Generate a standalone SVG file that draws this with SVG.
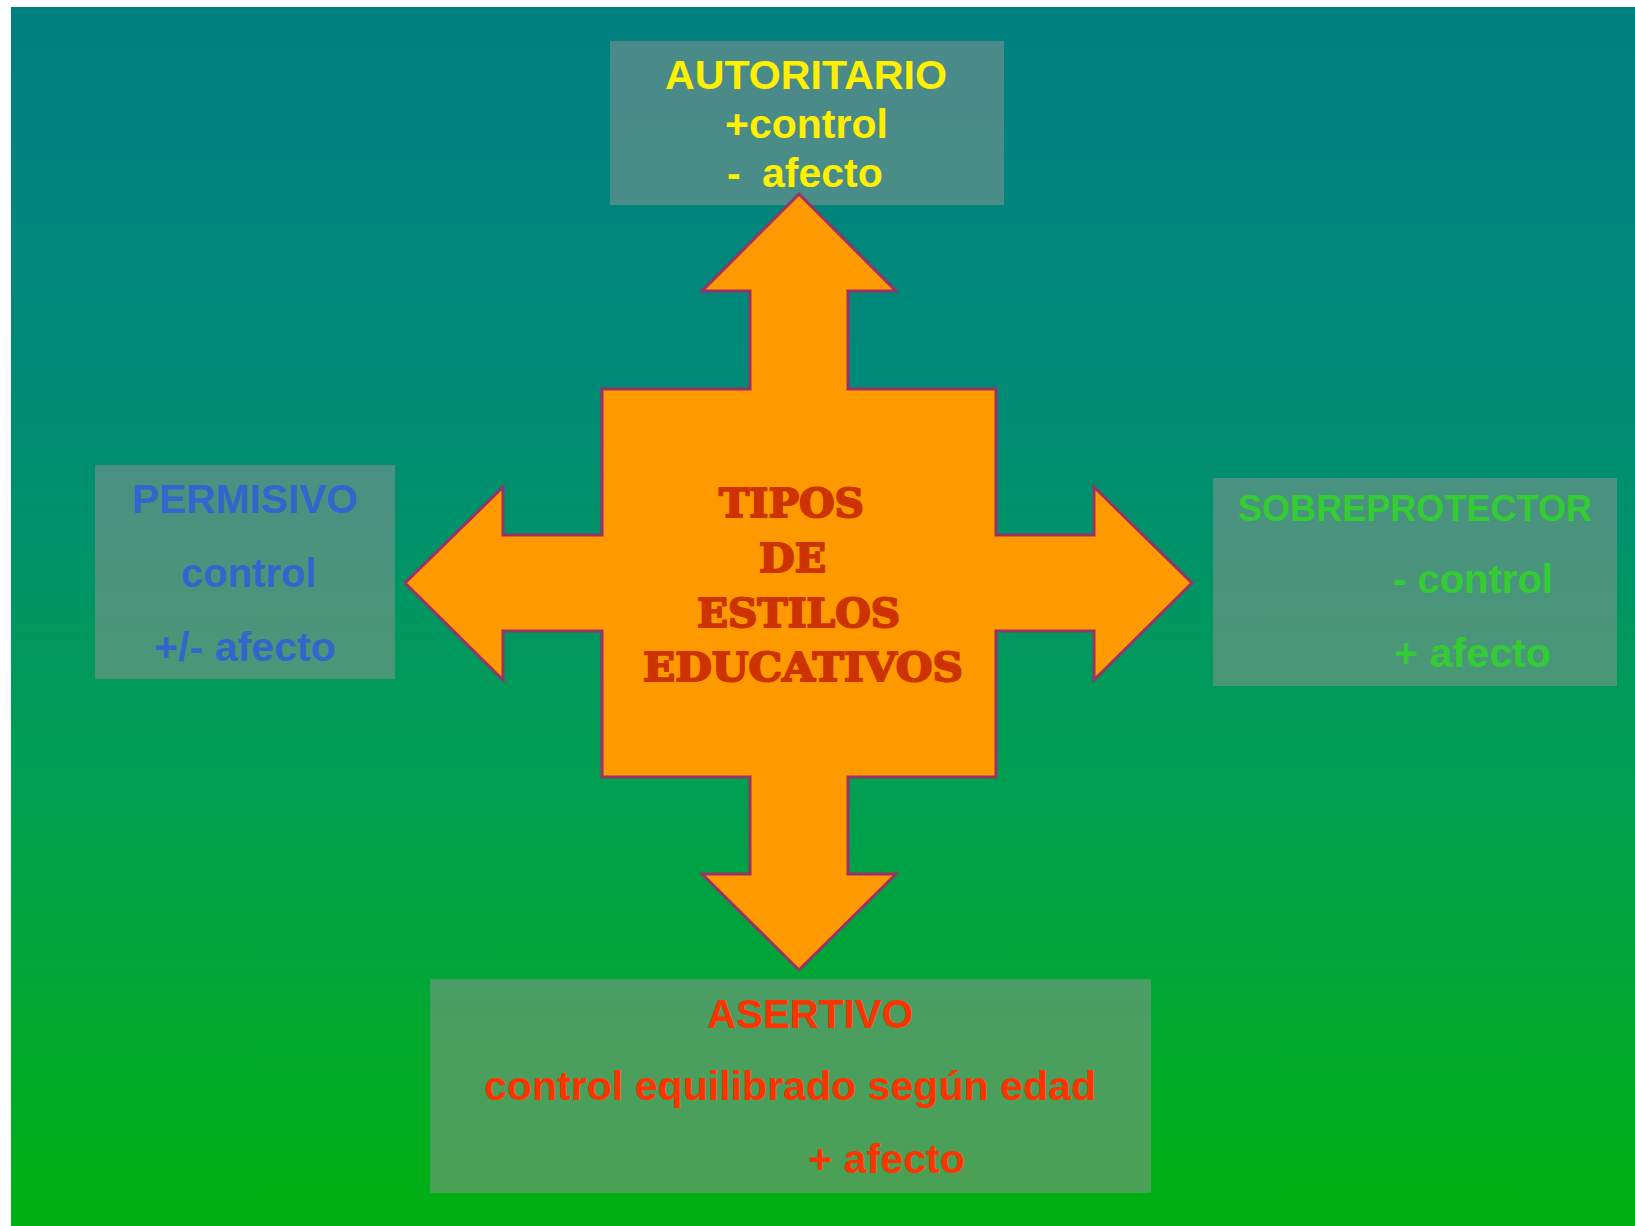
<svg xmlns="http://www.w3.org/2000/svg" width="1635" height="1226" viewBox="0 0 1635 1226">
  <defs>
    <linearGradient id="bg" x1="0" y1="0" x2="0" y2="1">
      <stop offset="0" stop-color="#008080"/>
      <stop offset="0.3" stop-color="#008A78"/>
      <stop offset="0.65" stop-color="#00A050"/>
      <stop offset="1" stop-color="#00B010"/>
    </linearGradient>
    <style>
      .box { fill: #949494; fill-opacity: 0.5; }
      .lbl { font-family: "Liberation Sans", Arial, sans-serif; font-weight: bold; }
      .title { font-family: "DejaVu Serif", "Liberation Serif", serif; font-weight: bold; font-size: 40px; fill: #CC3300; stroke: #CC3300; stroke-width: 2; stroke-linejoin: round; }
      .star { fill: #FF9900; stroke: #993366; stroke-width: 3; stroke-linejoin: miter; }
    </style>
  </defs>
  <rect x="0" y="0" width="1635" height="1226" fill="#FFFFFF"/>
  <rect x="11" y="7" width="1624" height="1219" fill="url(#bg)"/>

  <g id="autoritario">
    <rect class="box" x="610" y="41" width="394" height="164"/>
    <text class="lbl" font-size="41" fill="#FFF000">
      <tspan x="665" y="89" textLength="282" lengthAdjust="spacingAndGlyphs">AUTORITARIO</tspan>
      <tspan x="725" y="138">+control</tspan>
      <tspan x="727" y="187">-</tspan><tspan x="762" y="187">afecto</tspan>
    </text>
  </g>

  <g id="permisivo">
    <rect class="box" x="95" y="465" width="300" height="214"/>
    <text class="lbl" font-size="40" fill="#3366CC">
      <tspan x="132" y="513" textLength="226" lengthAdjust="spacingAndGlyphs">PERMISIVO</tspan>
      <tspan x="181" y="587">control</tspan>
      <tspan x="154" y="661" textLength="182" lengthAdjust="spacingAndGlyphs">+/- afecto</tspan>
    </text>
  </g>

  <g id="sobreprotector">
    <rect class="box" x="1213" y="478" width="404" height="208"/>
    <text class="lbl" fill="#33CC33">
      <tspan x="1238" y="521" font-size="36" textLength="354" lengthAdjust="spacingAndGlyphs">SOBREPROTECTOR</tspan>
      <tspan x="1393" y="593" font-size="40">- control</tspan>
      <tspan x="1394" y="667" font-size="41" textLength="157" lengthAdjust="spacingAndGlyphs">+ afecto</tspan>
    </text>
  </g>

  <g id="asertivo">
    <rect class="box" x="430" y="979" width="721" height="214"/>
    <text class="lbl" fill="#FF3300">
      <tspan x="707" y="1028" font-size="40" textLength="206" lengthAdjust="spacingAndGlyphs">ASERTIVO</tspan>
      <tspan x="484" y="1100" font-size="41" textLength="612" lengthAdjust="spacingAndGlyphs">control equilibrado según edad</tspan>
      <tspan x="808" y="1173" font-size="41" textLength="157" lengthAdjust="spacingAndGlyphs">+ afecto</tspan>
    </text>
  </g>

  <g id="connectors">
    <polygon class="star" points="799,194 896,291 848,291 848,389 996,389 996,535 1094,535 1094,487 1192,583 1094,680 1094,631 996,631 996,777 848,777 848,874 896,874 799,970 702,874 750,874 750,777 602,777 602,631 503,631 503,680 405,583 503,487 503,535 602,535 602,389 750,389 750,291 702,291"/>
  </g>

  <g id="tipos">
    <text class="title" x="719" y="517" textLength="145" lengthAdjust="spacingAndGlyphs">TIPOS</text>
    <text class="title" x="759" y="572" textLength="67" lengthAdjust="spacingAndGlyphs">DE</text>
    <text class="title" x="697" y="627" textLength="203" lengthAdjust="spacingAndGlyphs">ESTILOS</text>
    <text class="title" x="643" y="681" textLength="320" lengthAdjust="spacingAndGlyphs">EDUCATIVOS</text>
  </g>
</svg>
